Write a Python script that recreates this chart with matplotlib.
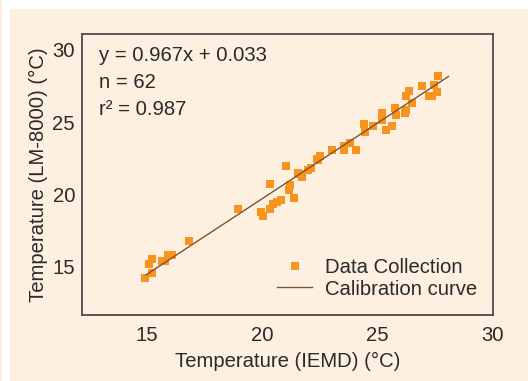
import matplotlib
matplotlib.use("Agg")
import matplotlib.pyplot as plt
from matplotlib.patches import Rectangle

plt.rcParams['font.family'] = ['Liberation Sans', 'DejaVu Sans']

# IEMD temperature (x) and LM-8000 temperature (y), °C
iemd = [14.91, 15.23, 15.09, 15.23, 15.64, 15.78, 15.92, 16.07, 16.82,
        18.96, 19.94, 20.04, 20.33, 20.33, 20.47, 20.62, 20.79,
        21.02, 21.20, 21.17, 21.39, 21.56, 21.72, 21.65, 21.99, 22.11,
        22.43, 22.50, 22.35, 23.00, 23.55, 23.56, 23.80, 24.06,
        24.42, 24.45, 24.78, 25.17, 25.17, 25.20, 25.34, 25.63,
        25.77, 25.78, 26.23, 26.20, 26.23, 26.37, 26.50, 26.93,
        27.22, 27.35, 27.45, 27.56, 27.60]
lm8000 = [14.19, 14.58, 15.19, 15.51, 15.42, 15.42, 15.81, 15.81, 16.80,
          18.97, 18.81, 18.51, 20.71, 19.00, 19.32, 19.46, 19.62,
          21.97, 20.62, 20.29, 19.74, 21.47, 21.23, 21.40, 21.70, 21.81,
          22.39, 22.67, 22.45, 23.10, 23.37, 23.04, 23.55, 23.08,
          24.90, 24.35, 24.70, 25.62, 25.16, 25.40, 24.47, 24.74,
          25.95, 25.48, 25.85, 25.65, 26.84, 27.17, 26.32, 27.51,
          26.84, 26.84, 27.58, 27.08, 28.16]

# calibration curve end points as drawn
calib_x = [14.96, 28.07]
calib_y = [14.43, 28.16]

x_ticks = [15, 20, 25, 30]
y_ticks = [15, 20, 25, 30]

stats_lines = ["y = 0.967x + 0.033", "n = 62", "r² = 0.987"]

cream = '#fdf0e1'
text_c = '#2a2a2a'
fs = 14.6

fig = plt.figure(figsize=(5.28, 3.81), dpi=100, facecolor='white')
fig.patches.append(Rectangle((10/528, 0), 1 - 10/528, 1 - 9/381,
                             transform=fig.transFigure, facecolor=cream,
                             edgecolor='none', zorder=-10))
fig.patches.append(Rectangle((0, 0), 2/528, 1,
                             transform=fig.transFigure, facecolor=cream,
                             edgecolor='none', zorder=-10))

ax = fig.add_axes([82/528, 1 - 315/381, (493 - 82)/528, (315 - 34)/381])
ax.set_facecolor(cream)

ax.plot(iemd, lm8000, linestyle='none', marker='s', markersize=5.2,
        color='#f7931e', markeredgewidth=0, label='Data Collection', zorder=2)
ax.plot(calib_x, calib_y, color='#7a5532', linewidth=1.0,
        label='Calibration curve', zorder=3)

ax.set_xlim(12.18, 30.0)
ax.set_ylim(11.65, 31.1)
ax.set_xticks(x_ticks)
ax.set_yticks(y_ticks)
ax.tick_params(length=0, labelsize=fs, colors=text_c)
ax.tick_params(axis='x', pad=8)
ax.tick_params(axis='y', pad=5)
for s in ax.spines.values():
    s.set_color('#4a4a4a')
    s.set_linewidth(1.3)

ax.set_xlabel('Temperature (IEMD) (°C)', fontsize=fs, color=text_c, labelpad=5)
ax.set_ylabel('Temperature (LM-8000) (°C)', fontsize=fs, color=text_c, labelpad=3.5)

for i, t in enumerate(stats_lines):
    ax.text(99/528, 1 - (55.7 + 27 * i)/381, t, transform=fig.transFigure,
            fontsize=fs, color=text_c, va='center', ha='left')

leg = ax.legend(loc='lower right', bbox_to_anchor=(0.996, 0.008), frameon=False,
                fontsize=fs, handlelength=1.7, handletextpad=0.65,
                labelspacing=0.13, borderaxespad=0.3)
for t in leg.get_texts():
    t.set_color(text_c)

fig.savefig('out.png', dpi=100, facecolor=fig.get_facecolor())
